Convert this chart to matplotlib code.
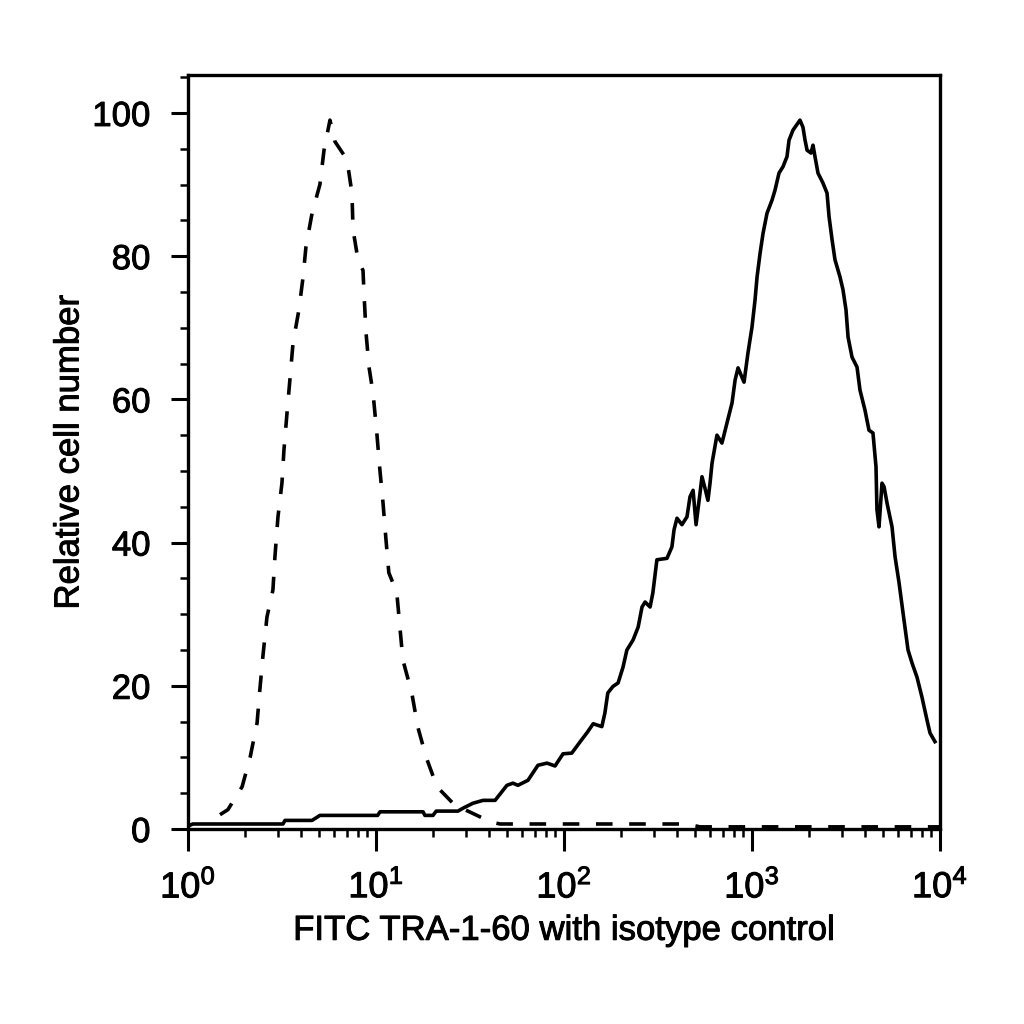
import numpy as np
import matplotlib.pyplot as plt
import matplotlib.patheffects as pe
from matplotlib.ticker import FixedLocator, FixedFormatter, MultipleLocator

plt.rcParams['font.family'] = ['Liberation Sans', 'DejaVu Sans']
plt.rcParams['mathtext.fontset'] = 'custom'
plt.rcParams['mathtext.rm'] = 'Liberation Sans'

# isotype control (dashed)
iso_x = [1.48, 1.63, 1.94, 2.14, 2.33, 2.41, 2.50, 2.63, 2.83, 2.90, 3.01, 3.16,
         3.24, 3.36, 3.49, 3.62, 3.89, 4.09, 4.24, 4.57, 5.03, 5.29, 5.69, 6.05,
         6.84, 7.10, 7.45, 7.55, 8.02, 8.53, 8.63, 8.85, 9.18, 9.64, 10.1, 10.5,
         10.9, 11.3, 11.7, 12.9, 13.4, 13.9, 15.5, 16.7, 18.5, 21.1, 27.0, 29.7,
         37.1, 40.4, 45.7, 155, 451, 528, 10000]
iso_y = [2.0, 2.7, 5.9, 10, 14.8, 19.4, 24, 29.6, 33.4, 38, 43.6, 48.3,
         53, 58, 63, 67.9, 72.5, 77, 81.3, 86, 90, 94.8, 99, 96,
         93.9, 92.5, 88.8, 83.7, 79.5, 78, 74.9, 69.3, 64.5, 60.9, 55.3, 50,
         45.5, 40.4, 35.8, 33, 28.2, 23.6, 19, 14.2, 10, 5.9, 3.0, 2.7,
         1.5, 1.0, 0.7, 0.7, 0.7, 0.3, 0.3]

# FITC TRA-1-60 (solid)
tra_x = [1.02, 1.06, 3.20, 3.28, 4.57, 5.03, 10.2, 10.5, 17.8, 18.2, 20.1, 20.9,
         27.3, 29.0, 32.8, 37.1, 43.0, 49.7, 53.5, 56.9, 64.3, 72.7, 81.2, 89.6,
         98.8, 110, 122, 133, 143, 159, 165, 171, 182, 194, 206, 216,
         233, 248, 260, 270, 287, 297, 312, 353, 375, 385, 399, 424,
         451, 468, 486, 504, 529, 542, 562, 583, 598, 613, 651, 692,
         736, 783, 813, 843, 907, 952, 1000, 1038, 1064, 1104, 1145, 1202,
         1277, 1325, 1392, 1462, 1535, 1574, 1652, 1800, 1867, 1915, 1963, 2060,
         2111, 2163, 2244, 2386, 2507, 2570, 2666, 2763, 2938, 3048, 3162, 3243,
         3404, 3620, 3753, 3990, 4190, 4400, 4566, 4620, 4738, 4915, 5040, 5228,
         5556, 5768, 6055, 6357, 6760, 7096, 7545, 8020, 8530, 8850, 9400]
tra_y = [0.5, 0.7, 0.7, 1.2, 1.2, 1.9, 1.9, 2.4, 2.4, 1.9, 1.9, 2.5,
         2.5, 2.9, 3.6, 4.0, 4.0, 6.1, 6.4, 6.1, 6.8, 8.9, 9.2, 8.8,
         10.5, 10.6, 12.2, 13.5, 14.7, 14.3, 16.2, 19, 19.9, 20.4, 22.6, 25,
         26.4, 28.2, 31, 31.7, 31, 33, 37.6, 37.8, 39.4, 41.8, 43.4, 42.5,
         43.6, 46.4, 47.3, 42.5, 46.9, 49.2, 47.6, 45.9, 48.3, 51.1, 55, 53.9,
         56.7, 59.5, 62.7, 64.4, 62.4, 66.5, 70.1, 73.9, 77.1, 80.4, 83.2, 86,
         87.8, 89.2, 91.6, 92.5, 93.9, 96.2, 97.6, 99, 98, 96.2, 94.8, 94.4,
         95.5, 93.9, 91.6, 90.2, 88.8, 85.5, 82.3, 79.5, 77.1, 75.3, 72.5, 68.7,
         65.9, 64.5, 61.3, 58.5, 55.7, 55.3, 50.6, 44.6, 42.2, 48.3, 47.8, 45.5,
         42.2, 38, 34.4, 30.2, 25, 23.2, 21.2, 18.4, 15.2, 13.4, 12.2]

x_ticks = [1, 10, 100, 1000, 10000]
x_labels = [r'$\mathregular{10^{0}}$', r'$\mathregular{10^{1}}$', r'$\mathregular{10^{2}}$',
            r'$\mathregular{10^{3}}$', r'$\mathregular{10^{4}}$']
y_ticks = [0, 20, 40, 60, 80, 100]

fig = plt.figure(figsize=(10.24, 10.24), dpi=100)
ax = fig.add_axes([188 / 1024, 195 / 1024, 752 / 1024, 754 / 1024])

ax.plot(iso_x, iso_y, color='black', lw=2.6, dashes=(4.6, 4.6))
ax.plot(tra_x, tra_y, color='black', lw=2.6)

ax.set_xscale('log')
ax.set_xlim(1, 10000)
ax.set_ylim(0, 105.3)

minor = [m * 10 ** d for d in range(4) for m in range(2, 10)]
ax.xaxis.set_major_locator(FixedLocator(x_ticks))
ax.xaxis.set_major_formatter(FixedFormatter(x_labels))
ax.xaxis.set_minor_locator(FixedLocator(minor))
ax.xaxis.set_minor_formatter(FixedFormatter([''] * len(minor)))
ax.yaxis.set_major_locator(FixedLocator(y_ticks))
ax.yaxis.set_minor_locator(MultipleLocator(5))

for s in ax.spines.values():
    s.set_linewidth(2.4)

ax.tick_params(axis='x', which='major', length=16, width=2.2, pad=13, labelsize=26)
ax.tick_params(axis='x', which='minor', length=6, width=1.8)
ax.tick_params(axis='y', which='major', length=12, width=2.2, pad=15, labelsize=25)
ax.tick_params(axis='y', which='minor', length=6, width=1.8)

ax.set_xlabel('FITC TRA-1-60 with isotype control', fontsize=25, labelpad=6)
ax.set_ylabel('Relative cell number', fontsize=25, labelpad=5)

# the original text is a bit heavier than plain Liberation Sans
heavy = [pe.withStroke(linewidth=0.7, foreground='black')]
for t in ax.get_xticklabels() + ax.get_yticklabels() + [ax.xaxis.label, ax.yaxis.label]:
    t.set_path_effects(heavy)

fig.savefig('out.png', dpi=100)
